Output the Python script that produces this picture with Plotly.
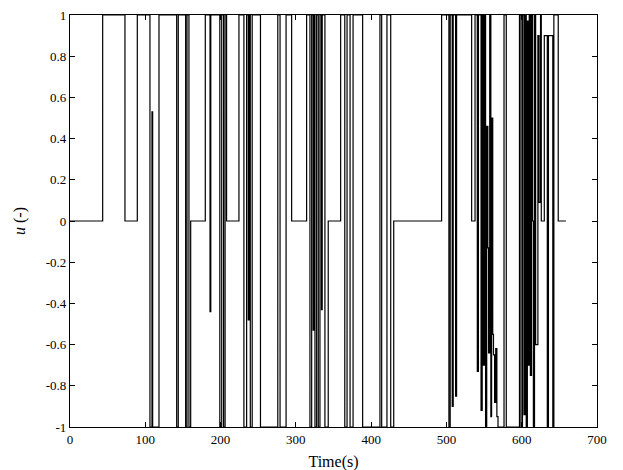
import plotly.graph_objects as go

# switching instants (s) and control value held from that instant on
switch_times = [
    0, 43.4, 73, 89.4, 106.2, 108.9, 109.8, 118.2,
    141.7, 143.8, 153.6, 155.4, 158, 160.3, 179.7, 186, 187,
    199, 201.5, 204, 206, 208, 224.4, 231, 234.6, 236.8, 238, 239.5, 242,
    253, 276, 279, 287, 294.4, 314.3,
    318.7, 321, 323, 324, 325.4, 327.6, 329.8, 332, 334, 335, 338.6,
    343, 359.5, 365, 368, 372, 376, 388.7, 411.7, 414, 421, 426,
    430, 493.6, 503.3, 505, 507.7, 509, 512.2, 513.5, 533.5, 538, 541, 542.5,
    546, 547.5, 549, 550.5, 552, 553.5, 555, 556, 557.5, 559, 560, 561.5,
    562.5, 564, 565.5, 567, 568.5, 576.5, 579.5,
    597, 599, 601, 603, 604.5, 606, 607.5, 608.7, 610, 611.5, 613, 614.5,
    615.5, 617, 618.5, 621.5, 623, 625, 626, 630, 634, 635.5, 641.3, 642.7,
    648.5, 658.7,
]
u_values = [
    0, 1, 0, 1, -1, 0.53, -1, 1,
    -1, 1, -1, 1, -1, 0, 1, -0.44, 1,
    -1, 1, -1, 1, 0, 1, -1, 1, -0.48, 1, -1, 1,
    -1, 1, -1, 1, 0, 1,
    -1, 1, -0.53, 1, -1, 1, -1, 1, -0.43, 1, -1,
    0, 1, -1, 1, -1, 1, -1, 1, -1, 1, -1,
    0, 1, -1, 1, -0.9, 1, -0.85, 1, 0, 1, -0.73, 1,
    -0.92, 1, -0.7, 1, -1, 0.46, -0.13, -0.64, 1, -0.95, 0.5, -0.55,
    -0.65, -0.88, -0.62, -0.95, -1, 1, -1,
    1, -1, 1, -0.94, 1, -1, 0.97, -0.7, 1, -0.75, 1, 0,
    -1, 1, -0.6, 0.9, 0.09, 1, 0, 0.9, -1, 0.9, -1, 1,
    0, 0,
]

x_ticks = [0, 100, 200, 300, 400, 500, 600, 700]
y_ticks = [-1, -0.8, -0.6, -0.4, -0.2, 0, 0.2, 0.4, 0.6, 0.8, 1]
y_labels = ["-1", "-0.8", "-0.6", "-0.4", "-0.2", "0", "0.2", "0.4", "0.6", "0.8", "1"]

serif = "Liberation Serif, Times New Roman, serif"

fig = go.Figure(go.Scatter(
    x=switch_times, y=u_values, mode="lines", line_shape="hv",
    line=dict(color="black", width=1.2), showlegend=False, cliponaxis=False,
))

axis_style = dict(
    showgrid=False, zeroline=False, showline=True, linecolor="black", linewidth=1.3,
    mirror="ticks", ticks="inside", ticklen=5, tickcolor="black", tickwidth=1,
    tickfont=dict(family=serif, size=13, color="black"),
    automargin=False, ticklabeloverflow="allow",
)
fig.update_xaxes(
    range=[0, 700], tickvals=x_ticks,
    title=dict(text="Time(s)", font=dict(family=serif, size=16, color="black"), standoff=10),
    **axis_style,
)
fig.update_yaxes(
    range=[-1, 1], tickvals=y_ticks, ticktext=y_labels,
    title=dict(text="<i>u</i> (-)", font=dict(family=serif, size=16, color="black"), standoff=16),
    **axis_style,
)
# page body adds an 8px offset, so margins are shifted to compensate
fig.update_layout(
    width=623, height=470,
    margin=dict(l=62, r=34, t=7, b=51),
    paper_bgcolor="white", plot_bgcolor="white",
)

fig.write_html("out.html")
